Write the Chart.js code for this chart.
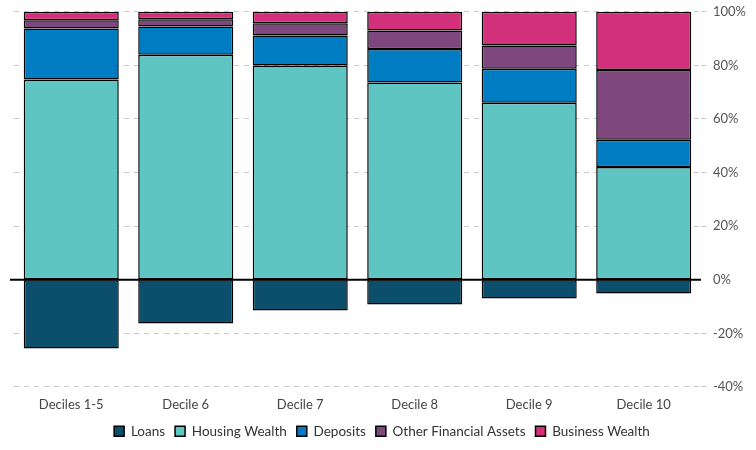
<!DOCTYPE html>
<html>
<head>
<meta charset="utf-8">
<script src="https://cdn.jsdelivr.net/npm/chart.js@4"></script>
<style>
  html, body { margin: 0; padding: 0; background: #fff; }
  #wrap { width: 756px; height: 450px; }
</style>
</head>
<body>
<div id="wrap"><canvas id="myChart"></canvas></div>
<script>
// categories and shares (% of net wealth)
const categories = ['Deciles 1-5', 'Decile 6', 'Decile 7', 'Decile 8', 'Decile 9', 'Decile 10'];
const loans = [-25.7, -16.3, -11.5, -9.2, -7.0, -5.1];
const housingWealth = [74.7, 84.0, 80.0, 73.6, 66.1, 42.1];
const deposits = [19.1, 10.5, 11.2, 12.5, 12.6, 10.1];
const otherFinancialAssets = [3.0, 2.7, 4.5, 6.9, 8.7, 26.1];
const businessWealth = [3.2, 2.8, 4.3, 7.0, 12.6, 21.7];
const yTicks = [-40, -20, 0, 20, 40, 60, 80, 100];

Chart.defaults.font.family = 'Lato, "DejaVu Sans", sans-serif';
Chart.defaults.font.size = 13;
Chart.defaults.color = '#555';

function makeSet(label, data, color) {
    return {
        label: label,
        data: data,
        backgroundColor: color,
        borderColor: '#000',
        borderWidth: 1.5,
        borderSkipped: false,
        barPercentage: 0.83,
        categoryPercentage: 1
    };
}

// solid black line at 0%
const zeroLine = {
    id: 'zeroLine',
    afterDatasetsDraw(chart) {
        const ctx = chart.ctx;
        const y = chart.scales.y.getPixelForValue(0);
        ctx.save();
        ctx.strokeStyle = '#000';
        ctx.lineWidth = 2;
        ctx.beginPath();
        ctx.moveTo(chart.chartArea.left - 4, y);
        ctx.lineTo(chart.chartArea.right, y);
        ctx.stroke();
        ctx.restore();
    }
};

const ctx = document.getElementById('myChart').getContext('2d');
new Chart(ctx, {
    type: 'bar',
    data: {
        labels: categories,
        datasets: [
            makeSet('Loans', loans, '#0b4f6c'),
            makeSet('Housing Wealth', housingWealth, '#5ec5c2'),
            makeSet('Deposits', deposits, '#007cc2'),
            makeSet('Other Financial Assets', otherFinancialAssets, '#7e487e'),
            makeSet('Business Wealth', businessWealth, '#d2307a')
        ]
    },
    options: {
        responsive: true,
        maintainAspectRatio: false,
        animation: false,
        layout: { padding: { left: 14, right: 6, top: 10, bottom: 2 } },
        scales: {
            x: {
                stacked: true,
                grid: { display: false },
                border: { display: false },
                ticks: { color: '#444', padding: 2 }
            },
            y: {
                stacked: true,
                position: 'right',
                min: -40,
                max: 100,
                afterBuildTicks: function(axis) {
                    axis.ticks = yTicks.map(v => ({ value: v }));
                },
                border: { display: false, dash: [5, 5] },
                grid: {
                    color: c => (c.tick && c.tick.value === 0) ? 'rgba(0,0,0,0)' : '#c8c8c8',
                    lineWidth: 1,
                    tickLength: 8,
                    tickBorderDash: [5, 5]
                },
                ticks: {
                    color: '#555',
                    padding: 4,
                    callback: function(value) {
                        return value + '%';
                    }
                }
            }
        },
        plugins: {
            legend: {
                display: true,
                position: 'bottom',
                labels: {
                    color: '#333',
                    boxWidth: 10,
                    boxHeight: 10,
                    padding: 10,
                    font: { size: 13.5 }
                }
            },
            tooltip: { enabled: false }
        }
    },
    plugins: [zeroLine]
});
</script>
</body>
</html>
